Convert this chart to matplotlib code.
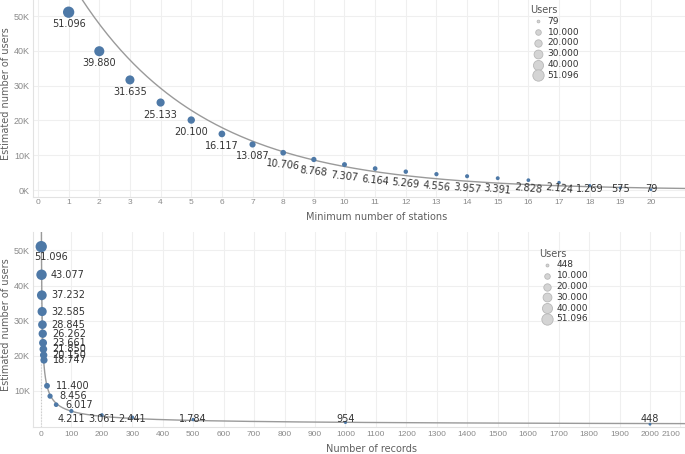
import numpy as np
import matplotlib
matplotlib.use("Agg")
import matplotlib.pyplot as plt

# top chart: users per minimum number of stations
stations = list(range(1, 21))
station_users = [51096, 39880, 31635, 25133, 20100, 16117, 13087, 10706, 8768, 7307,
                 6164, 5269, 4556, 3957, 3391, 2828, 2124, 1269, 575, 79]

# bottom chart: users per number of records
records = [1, 2, 3, 4, 5, 6, 7, 8, 9, 10, 20, 30, 50, 100, 200, 300, 500, 1000, 2000]
record_users = [51096, 43077, 37232, 32585, 28845, 26262, 23661, 21850, 20150, 18747,
                11400, 8456, 6017, 4211, 3061, 2441, 1784, 954, 448]

legend_top = [79, 10000, 20000, 30000, 40000, 51096]
legend_bottom = [448, 10000, 20000, 30000, 40000, 51096]

BLUE = "#4e79a7"
TREND = "#9a9a9a"
TICK_C = "#8a8a8a"
LABEL_C = "#606060"


def fmt(v):
    return f"{v:,}".replace(",", ".")


def size(v):
    return 3.8 + 0.001224 * np.asarray(v, dtype=float)


def style_axes(ax):
    ax.grid(color="#efefef", lw=0.8)
    ax.set_axisbelow(True)
    for s in ["top", "right"]:
        ax.spines[s].set_visible(False)
    for s in ["left", "bottom"]:
        ax.spines[s].set_color("#e2e2e2")
        ax.spines[s].set_linewidth(0.8)
    ax.tick_params(length=0, colors=TICK_C)
    for lab in ax.get_xticklabels() + ax.get_yticklabels():
        lab.set_family("Liberation Sans")


def add_legend(fig, ax, values, anchor):
    handles = [ax.scatter([], [], s=size(v), color="#d4d4d4", edgecolors="#b8b8b8",
                          linewidths=0.6) for v in values]
    leg = ax.legend(handles, [fmt(v) for v in values], title="Users", loc="upper left",
                    bbox_to_anchor=anchor, bbox_transform=fig.transFigure,
                    frameon=False, fontsize=6.5, title_fontsize=7, borderpad=0,
                    labelspacing=0.2, handlelength=1.6, handletextpad=0.3,
                    alignment="left")
    leg.get_title().set_color("#555555")
    for t in leg.get_texts():
        t.set_color("#333333")


fig = plt.figure(figsize=(6.85, 4.54), dpi=100)
ax1 = fig.add_axes([33 / 685, 1 - 197 / 454, 652 / 685, 197 / 454])
ax2 = fig.add_axes([33 / 685, 1 - 427 / 454, 652 / 685, 195 / 454])

# ---- top chart
x1 = np.array(stations)
y1 = np.array(station_users)
b, a = np.polyfit(x1, np.log(y1), 1)
xs = np.linspace(-0.2, 21.2, 400)
ax1.plot(xs, np.exp(a + b * xs), color=TREND, lw=1.0, zorder=2)
ax1.scatter(x1, y1, s=size(y1), color=BLUE, linewidths=0, zorder=3)
for i, (x, v) in enumerate(zip(stations, station_users)):
    rot = -6 if 7 <= i <= 16 else 0
    ax1.text(x, max(v - 3450, 300), fmt(v), ha="center", va="center", fontsize=7,
             color="#333333", rotation=rot, rotation_mode="anchor", zorder=4)

ax1.set_xlim(-0.163, 21.11)
ax1.set_ylim(-2011, 54600)
ax1.set_xticks(range(0, 21))
ax1.set_yticks(range(0, 50001, 10000))
ax1.set_yticklabels([f"{t // 1000}K" for t in range(0, 50001, 10000)], fontsize=6.5)
ax1.set_xticklabels([str(t) for t in range(0, 21)], fontsize=6)
style_axes(ax1)
ax1.tick_params(axis="x", pad=1.8)
ax1.tick_params(axis="y", pad=2.2)
ax1.set_xlabel("Minimum number of stations", fontsize=7, color=LABEL_C)
ax1.set_ylabel("Estimated number of users", fontsize=7, color=LABEL_C)
ax1.xaxis.set_label_coords((377 - 33) / 652, (197 - 212) / 197)
ax1.yaxis.set_label_coords(-0.034, 0.525)
add_legend(fig, ax1, legend_top, (526 / 685, 1 - 0.5 / 454))

# ---- bottom chart
x2 = np.array(records)
y2 = np.array(record_users)
d, c = np.polyfit(np.log(x2), np.log(y2), 1)
xs2 = np.logspace(-2, np.log10(2200), 800)
ax2.axvline(0, color="#c8c8c8", lw=0.8, ls=":", zorder=1)
ax2.plot(xs2, np.exp(c + d * np.log(xs2)), color=TREND, lw=1.0, zorder=2)
ax2.scatter(x2, y2, s=size(y2), color=BLUE, linewidths=0, zorder=3)
for i, (x, v) in enumerate(zip(records, record_users)):
    if i == 0:
        ax2.annotate(fmt(v), (x, v), xytext=(7.2, -7.2), textcoords="offset points",
                     ha="center", va="center", fontsize=7, color="#333333", zorder=4)
    elif i <= 12:
        ax2.annotate(fmt(v), (x, v), xytext=(6.5, 0), textcoords="offset points",
                     ha="left", va="center", fontsize=7, color="#333333", zorder=4)
    else:
        ax2.text(x, 1800, fmt(v), ha="center", va="center", fontsize=7,
                 color="#333333", zorder=4)

ax2.set_xlim(-26, 2115)
ax2.set_ylim(-340, 55270)
ax2.set_xticks(range(0, 2101, 100))
ax2.set_xticklabels([str(t) for t in range(0, 2101, 100)], fontsize=6)
ax2.set_yticks(range(10000, 50001, 10000))
ax2.set_yticklabels([f"{t // 1000}K" for t in range(10000, 50001, 10000)], fontsize=6.5)
style_axes(ax2)
ax2.get_xticklabels()[-1].set_horizontalalignment("right")
ax2.tick_params(axis="x", pad=3.2)
ax2.tick_params(axis="y", pad=2.2)
ax2.set_xlabel("Number of records", fontsize=7, color=LABEL_C)
ax2.set_ylabel("Estimated number of users", fontsize=7, color=LABEL_C)
ax2.xaxis.set_label_coords((371 - 33) / 652, (427 - 444) / 195)
ax2.yaxis.set_label_coords(-0.034, 0.523)
add_legend(fig, ax2, legend_bottom, (535 / 685, 1 - 244 / 454))

fig.savefig("out.png", dpi=100)
